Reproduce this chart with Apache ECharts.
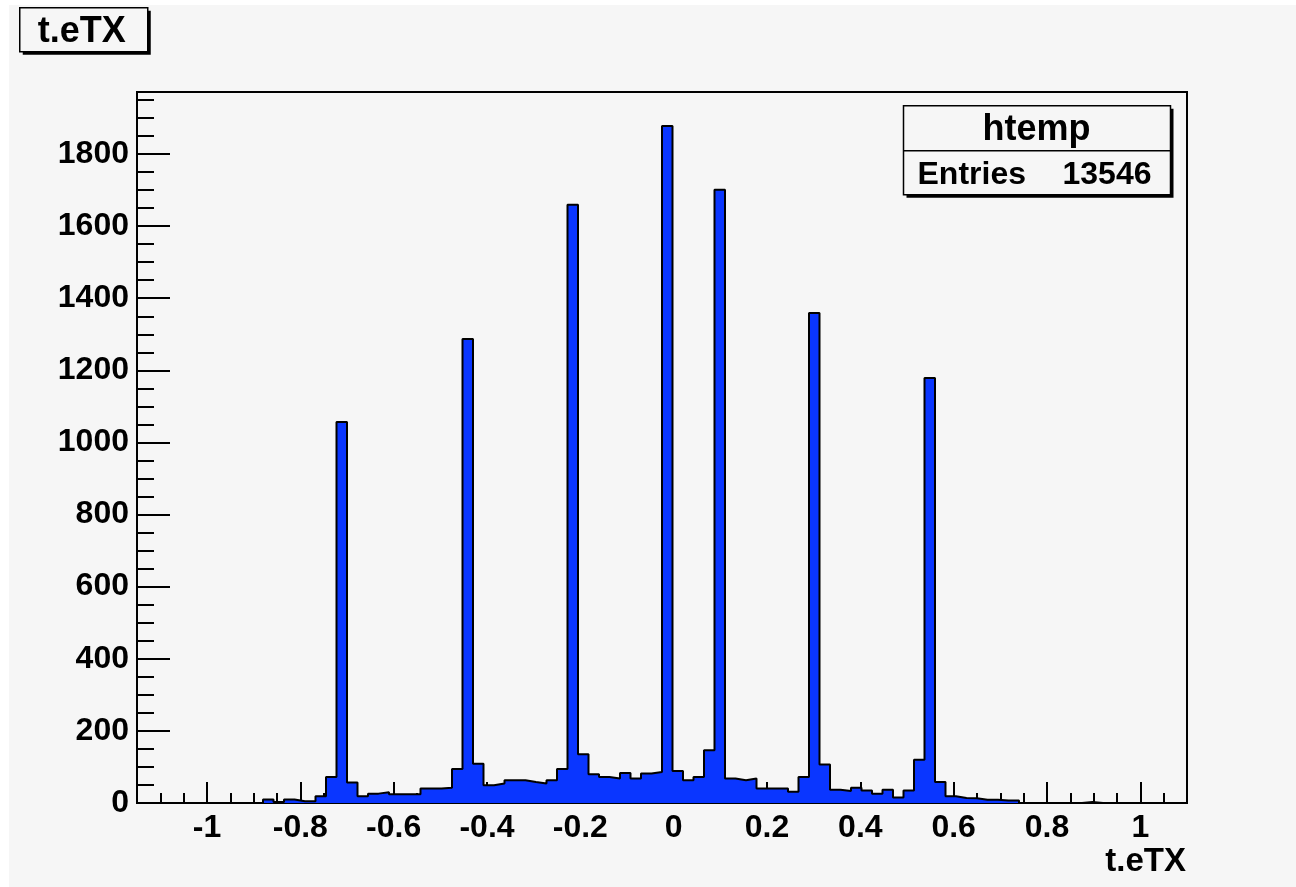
<!DOCTYPE html>
<html>
<head>
<meta charset="utf-8">
<title>t.eTX</title>
<script src="https://cdn.jsdelivr.net/npm/echarts@6/dist/echarts.min.js"></script>
<style>
  html, body { margin: 0; padding: 0; background: #ffffff; }
  #main { width: 1296px; height: 887px; }
</style>
</head>
<body>
<div id="main"></div>
<script>
// histogram htemp : 100 bins from -1.15 to 1.1
const xMin = -1.15
const xMax = 1.1
const binCount = 100
const entries = 13546
const counts = [
  0, 0, 0, 0, 0, 0, 0, 0, 0, 0,
  0, 0, 10, 3, 10, 5, 5, 19, 72, 1057,
  57, 19, 26, 30, 24, 24, 24, 40, 40, 42,
  94, 1287, 109, 49, 54, 63, 63, 58, 54, 63,
  94, 1659, 135, 80, 72, 68, 83, 68, 82, 86,
  1878, 89, 63, 72, 146, 1701, 68, 63, 68, 40,
  40, 40, 31, 72, 1359, 107, 37, 33, 42, 35,
  26, 37, 15, 35, 120, 1179, 58, 19, 14, 13,
  9, 9, 7, 7, 0, 0, 0, 0, 0, 0,
  3, 0, 0, 0, 0, 0, 0, 0, 0, 0
]
const yMax = 1972
const xLabels = [-1, -0.8, -0.6, -0.4, -0.2, 0, 0.2, 0.4, 0.6, 0.8, 1]
const xMinorTicks = [-1.1, -1.05, -0.95, -0.9, -0.85, -0.75, -0.7, -0.65, -0.55, -0.5, -0.45,
  -0.35, -0.3, -0.25, -0.15, -0.1, -0.05, 0.05, 0.1, 0.15, 0.25, 0.3, 0.35,
  0.45, 0.5, 0.55, 0.65, 0.7, 0.75, 0.85, 0.9, 0.95, 1.05]
const yLabels = [0, 200, 400, 600, 800, 1000, 1200, 1400, 1600, 1800]
const yMinorTicks = [50, 100, 150, 250, 300, 350, 450, 500, 550, 650, 700, 750,
  850, 900, 950, 1050, 1100, 1150, 1250, 1300, 1350, 1450, 1500, 1550,
  1650, 1700, 1750, 1850, 1900, 1950]

const font = '"Liberation Sans", Arial, Helvetica, sans-serif'
const bg = '#f6f6f6'

// bin edges -> step points for the outline / fill
const binWidth = (xMax - xMin) / binCount
const steps = [[xMin, 0]]
for (let i = 0; i < binCount; i++) {
  steps.push([xMin + i * binWidth, counts[i]])
}
steps.push([xMax, 0])

const myChart = echarts.init(document.getElementById('main'))
const option = {
  animation: false,
  backgroundColor: '#ffffff',
  textStyle: { fontFamily: font },
  grid: {
    left: 137,
    right: 109,
    top: 92,
    bottom: 84,
    show: true,
    borderColor: '#000',
    borderWidth: 2,
    backgroundColor: 'transparent'
  },
  xAxis: [
    {
      type: 'value',
      min: xMin,
      max: xMax,
      name: 't.eTX',
      nameLocation: 'end',
      nameGap: -1,
      nameTextStyle: {
        fontFamily: font,
        fontWeight: 'bold',
        fontSize: 33,
        color: '#000',
        align: 'right',
        verticalAlign: 'top',
        padding: [42, 0, 0, 0]
      },
      splitLine: { show: false },
      axisLine: { show: true, onZero: false, lineStyle: { color: '#000', width: 2 } },
      axisTick: {
        show: true,
        inside: true,
        length: 21,
        customValues: xLabels,
        lineStyle: { color: '#000', width: 2 }
      },
      axisLabel: {
        show: true,
        customValues: xLabels,
        margin: 9,
        fontFamily: font,
        fontWeight: 'bold',
        fontSize: 32,
        color: '#000',
        formatter: v => String(v)
      }
    },
    {
      // minor ticks
      type: 'value',
      min: xMin,
      max: xMax,
      position: 'bottom',
      splitLine: { show: false },
      axisLine: { show: false, onZero: false },
      axisLabel: { show: false },
      axisTick: {
        show: true,
        inside: true,
        length: 10,
        customValues: xMinorTicks,
        lineStyle: { color: '#000', width: 2 }
      }
    }
  ],
  yAxis: [
    {
      type: 'value',
      min: 0,
      max: yMax,
      splitLine: { show: false },
      axisLine: { show: true, onZero: false, lineStyle: { color: '#000', width: 2 } },
      axisTick: {
        show: true,
        inside: true,
        length: 33,
        customValues: yLabels,
        lineStyle: { color: '#000', width: 2 }
      },
      axisLabel: {
        show: true,
        customValues: yLabels,
        margin: 8,
        fontFamily: font,
        fontWeight: 'bold',
        fontSize: 32,
        color: '#000',
        formatter: v => String(v)
      }
    },
    {
      // minor ticks
      type: 'value',
      min: 0,
      max: yMax,
      position: 'left',
      splitLine: { show: false },
      axisLine: { show: false, onZero: false },
      axisLabel: { show: false },
      axisTick: {
        show: true,
        inside: true,
        length: 17,
        customValues: yMinorTicks,
        lineStyle: { color: '#000', width: 2 }
      }
    }
  ],
  series: [
    {
      name: 'htemp',
      type: 'line',
      step: 'end',
      xAxisIndex: 0,
      yAxisIndex: 0,
      showSymbol: false,
      symbol: 'none',
      data: steps,
      lineStyle: { color: '#000', width: 2 },
      areaStyle: { color: '#0a36ff', opacity: 1 },
      z: 3
    }
  ],
  graphic: [
    // canvas background
    {
      type: 'rect',
      z: -10,
      silent: true,
      shape: { x: 9, y: 5, width: 1296, height: 887 },
      style: { fill: bg }
    },
    // title box
    {
      type: 'group',
      left: 19,
      top: 7,
      children: [
        { type: 'rect', shape: { x: 3, y: 3, width: 128, height: 44 }, style: { fill: '#000' } },
        { type: 'rect', shape: { x: 0, y: 0, width: 128, height: 44 }, style: { fill: bg, stroke: '#000', lineWidth: 1.5 } },
        {
          type: 'text',
          x: 62,
          y: 24,
          style: {
            text: 't.eTX',
            fontFamily: font,
            fontWeight: 'bold',
            fontSize: 36,
            fill: '#000',
            align: 'center',
            verticalAlign: 'middle'
          }
        }
      ]
    },
    // stats box
    {
      type: 'group',
      left: 901,
      top: 105,
      children: [
        { type: 'rect', shape: { x: 3, y: 3, width: 267, height: 89 }, style: { fill: '#000' } },
        { type: 'rect', shape: { x: 0, y: 0, width: 267, height: 89 }, style: { fill: bg, stroke: '#000', lineWidth: 1.5 } },
        { type: 'line', shape: { x1: 0, y1: 45, x2: 267, y2: 45 }, style: { stroke: '#000', lineWidth: 1.5 } },
        {
          type: 'text',
          x: 133,
          y: 24,
          style: {
            text: 'htemp',
            fontFamily: font,
            fontWeight: 'bold',
            fontSize: 36,
            fill: '#000',
            align: 'center',
            verticalAlign: 'middle'
          }
        },
        {
          type: 'text',
          x: 14,
          y: 69,
          style: {
            text: 'Entries',
            fontFamily: font,
            fontWeight: 'bold',
            fontSize: 32,
            fill: '#000',
            align: 'left',
            verticalAlign: 'middle'
          }
        },
        {
          type: 'text',
          x: 248,
          y: 69,
          style: {
            text: String(entries),
            fontFamily: font,
            fontWeight: 'bold',
            fontSize: 32,
            fill: '#000',
            align: 'right',
            verticalAlign: 'middle'
          }
        }
      ]
    }
  ]
}
myChart.setOption(option)
</script>
</body>
</html>
